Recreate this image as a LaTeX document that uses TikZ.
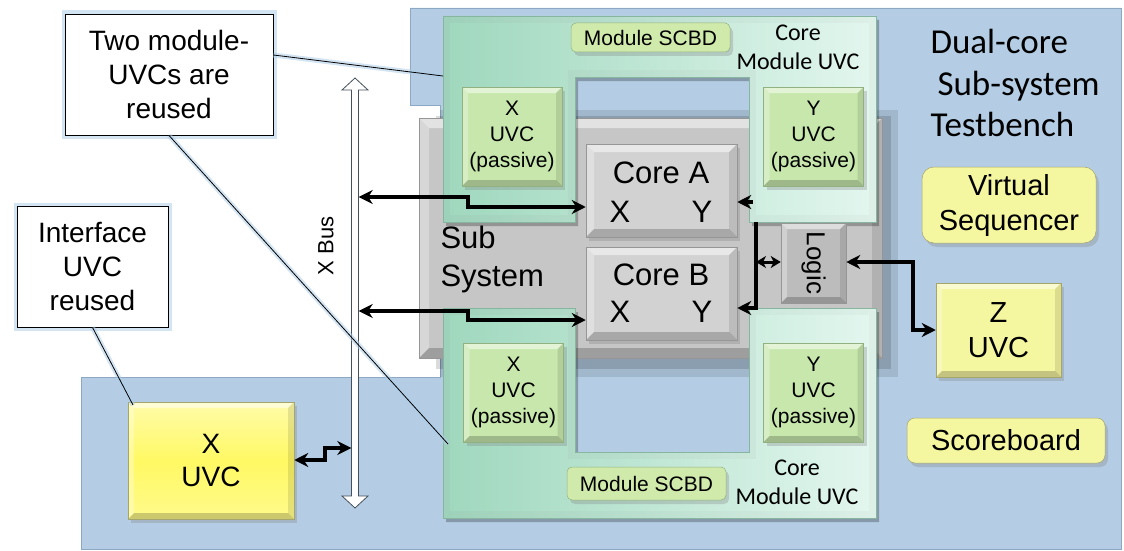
\documentclass[tikz,border=0pt]{standalone}
\usepackage{fontspec}
\setmainfont{Liberation Sans}
\newfontfamily\calib{Carlito}
\usetikzlibrary{arrows.meta,shadows}
\definecolor{bluebg}{RGB}{180,205,228}
\definecolor{blueedge}{RGB}{140,168,196}
\definecolor{graybox}{RGB}{198,198,198}
\definecolor{grayedge}{RGB}{150,150,150}
\definecolor{coregray}{RGB}{210,210,210}
\definecolor{modL}{RGB}{160,216,190}
\definecolor{modR}{RGB}{226,246,238}
\definecolor{modedge}{RGB}{135,182,160}
\definecolor{pgreen}{RGB}{199,231,172}
\definecolor{pedge}{RGB}{145,178,128}
\definecolor{scbd}{RGB}{208,234,172}
\definecolor{pyellow}{RGB}{245,246,160}
\definecolor{yedge}{RGB}{165,165,110}
\definecolor{byellow}{RGB}{255,249,100}
\definecolor{glow}{RGB}{175,205,232}
\definecolor{busedge}{RGB}{70,80,90}
\newcommand{\myfs}[2]{\fontsize{#1pt}{#2pt}\selectfont}
\begin{document}
\begin{tikzpicture}[x=1pt,y=-1pt,
  bevel/.style={path picture={
    \path (path picture bounding box.north west) coordinate (bvNW)
          (path picture bounding box.north east) coordinate (bvNE)
          (path picture bounding box.south west) coordinate (bvSW)
          (path picture bounding box.south east) coordinate (bvSE);
    \fill[white,opacity=.5] (bvNW) -- (bvNE) -- ([xshift=-#1pt,yshift=-#1pt]bvNE) -- ([xshift=#1pt,yshift=-#1pt]bvNW) -- cycle;
    \fill[white,opacity=.3] (bvNW) -- ([xshift=#1pt,yshift=-#1pt]bvNW) -- ([xshift=#1pt,yshift=#1pt]bvSW) -- (bvSW) -- cycle;
    \fill[black,opacity=.1] (bvNE) -- (bvSE) -- ([xshift=-#1pt,yshift=#1pt]bvSE) -- ([xshift=-#1pt,yshift=-#1pt]bvNE) -- cycle;
    \fill[black,opacity=.2] (bvSW) -- (bvSE) -- ([xshift=-#1pt,yshift=#1pt]bvSE) -- ([xshift=#1pt,yshift=#1pt]bvSW) -- cycle;
  }},
  bevel/.default=6,
  shad/.style={drop shadow={shadow xshift=3pt,shadow yshift=-4pt,opacity=.3}},
  core/.style={fill=coregray, draw=grayedge, line width=.5pt, minimum width=151pt, minimum height=93pt, inner sep=0pt, shad, bevel=8},
  passive/.style={fill=pgreen, draw=pedge, line width=.5pt, minimum width=100pt, minimum height=99pt, inner sep=0pt, align=center, font=\myfs{21}{26}, shad, bevel=6},
  scbdbox/.style={fill=scbd, draw=pedge, line width=.5pt, rounded corners=5pt, minimum width=159pt, inner sep=0pt, font=\myfs{21}{25}, shad},
  ybox/.style={fill=pyellow, draw=yedge, line width=.5pt, inner sep=0pt, align=center, font=\myfs{29}{35}, shad},
  callout/.style={fill=white, draw=black, line width=.9pt, inner sep=0pt, align=center, font=\myfs{28}{34}, preaction={draw=glow, line width=7pt, opacity=.55}},
  arrowtip/.tip={Stealth[length=14pt,width=14pt,inset=4.5pt]},
  smalltip/.tip={Stealth[length=10pt,width=12pt,inset=3pt]},
  conn/.style={draw=black, line width=3.2pt, arrowtip-arrowtip},
  conn1/.style={draw=black, line width=3.2pt, -arrowtip},
  connsmall/.style={draw=black, line width=3pt, smalltip-smalltip},
  leader/.style={draw=black, line width=.8pt, preaction={draw=glow, line width=5pt, opacity=.55}},
  modtext/.style={font=\calib\myfs{24}{29}, align=center}
]
\useasboundingbox (0,0) rectangle (1124,551);
% testbench background
\fill[bluebg, draw=blueedge, line width=.6pt] (410,8) -- (1121,8) -- (1121,549) -- (81,549) -- (81,377) -- (440,377) -- (440,105) -- (410,105) -- cycle;
% sub-system box with soft shadow
\fill[black,opacity=.10] (440,110) rectangle (898,377);
\fill[black,opacity=.14] (436,116) rectangle (891,369);
\node[fill=graybox, draw=grayedge, line width=.5pt, minimum width=463pt, minimum height=240pt, inner sep=0pt, bevel=10] (subsys) at (650.5,238) {};
\node[anchor=west, align=left, font=\myfs{31}{38}] (subtext) at (437,259) {Sub\\System};
% top core module UVC (U shape)
\begin{scope}[xshift=3pt,yshift=-4pt]
\fill[black,opacity=.25] (443,16) -- (876,16) -- (876,222) -- (749,222) -- (749,77) -- (575,77) -- (575,222) -- (443,222) -- cycle;
\end{scope}
\shade[left color=modL!92!gray, right color=modR!95!gray, draw=modedge, line width=.5pt] (443,16) -- (876,16) -- (876,222) -- (749,222) -- (749,77) -- (575,77) -- (575,222) -- (443,222) -- cycle;
\shade[left color=modL, right color=modR] (450,23) -- (869,23) -- (869,215) -- (756,215) -- (756,70) -- (568,70) -- (568,215) -- (450,215) -- cycle;
% bottom core module UVC (U shape)
\begin{scope}[xshift=3pt,yshift=-4pt]
\fill[black,opacity=.25] (443,308) -- (575,308) -- (575,452) -- (749,452) -- (749,308) -- (876,308) -- (876,518) -- (443,518) -- cycle;
\end{scope}
\shade[left color=modL!92!gray, right color=modR!95!gray, draw=modedge, line width=.5pt] (443,308) -- (575,308) -- (575,452) -- (749,452) -- (749,308) -- (876,308) -- (876,518) -- (443,518) -- cycle;
\shade[left color=modL, right color=modR] (450,315) -- (568,315) -- (568,459) -- (756,459) -- (756,315) -- (869,315) -- (869,511) -- (450,511) -- cycle;
% module contents
\node[scbdbox, minimum height=29pt] (scbdA) at (650.5,37.5) {Module SCBD};
\node[scbdbox, minimum height=33pt] (scbdB) at (646.5,483.5) {Module SCBD};
\node[modtext] (modA) at (798,47) {Core\\Module UVC};
\node[modtext] (modB) at (797,482) {Core\\Module UVC};
\node[passive] (pxA) at (512,136.5) {X\\UVC\\(passive)};
\node[passive] (pyA) at (813.5,136.5) {Y\\UVC\\(passive)};
\node[passive] (pxB) at (513.5,392.5) {X\\UVC\\(passive)};
\node[passive] (pyB) at (813.5,392.5) {Y\\UVC\\(passive)};
% cores and logic
\node[core] (coreA) at (661.5,190.5) {};
\node[font=\myfs{31}{38}] (coreAt) at (661,173) {Core A};
\node[font=\myfs{31}{38}] (coreAx) at (620,212) {X};
\node[font=\myfs{31}{38}] (coreAy) at (702,212) {Y};
\node[core] (coreB) at (661.5,293.5) {};
\node[font=\myfs{31}{38}] (coreBt) at (661,275) {Core B};
\node[font=\myfs{31}{38}] (coreBx) at (620,312) {X};
\node[font=\myfs{31}{38}] (coreBy) at (702,312) {Y};
\node[fill=graybox!95!black, draw=grayedge, line width=.5pt, minimum width=65pt, minimum height=80pt, inner sep=0pt, bevel=6, font=\myfs{26}{30}] (logic) at (813.5,263) {\rotatebox{-90}{Logic}};
% testbench components
\node[ybox, rounded corners=12pt, minimum width=174pt, minimum height=76pt] (vseq) at (1009,205) {Virtual\\Sequencer};
\node[ybox, minimum width=125pt, minimum height=94pt, bevel=6] (zuvc) at (998.5,330) {Z\\UVC};
\node[ybox, rounded corners=8pt, minimum width=198pt, minimum height=45pt] (sb) at (1006,440.5) {Scoreboard};
\node[top color=byellow!55!white, bottom color=byellow!75!white, middle color=byellow, draw=yedge, line width=.5pt, minimum width=166pt, minimum height=117pt, inner sep=0pt, align=center, font=\myfs{28}{33}, shad, bevel=6] (xuvc) at (211,460.5) {X\\UVC};
\node[anchor=west, align=left, font=\calib\myfs{35}{41.5}] (tbtitle) at (927,83) {Dual-core\\\hspace*{7pt}Sub-system\\Testbench};
% X bus
\fill[white, draw=busedge, line width=.8pt] (355,78) -- (368,90) -- (358.5,90) -- (358.5,496) -- (368,496) -- (355,508) -- (342,496) -- (351.5,496) -- (351.5,90) -- (342,90) -- cycle;
\node[minimum width=7pt, minimum height=430pt, inner sep=0pt] (xbus) at (355,293) {};
\node[font=\myfs{22}{26}] (xbuslabel) at (326,246) {\rotatebox{90}{X Bus}};
% connectors
\coordinate (b1) at (468,197); \coordinate (b2) at (468,207);
\coordinate (b3) at (468,311); \coordinate (b4) at (468,320);
\coordinate (b5) at (325,460); \coordinate (b6) at (325,448);
\draw[conn] (xbus.east |- b1) -- (b1) -- (b2) -- (coreA.west |- b2);
\draw[conn] (xbus.east |- b3) -- (b3) -- (b4) -- (coreB.west |- b4);
\draw[conn] (xuvc.east |- b5) -- (b5) -- (b6) -- (xbus.west |- b6);
\coordinate (ylegA) at (753,202);
\draw[conn1] (ylegA) -- (coreA.east |- ylegA);
\coordinate (vtop) at (756,222); \coordinate (vbot) at (756,308); \coordinate (vmid) at (756,262);
\draw[conn1] (vtop) -- (vbot) -- (coreB.east |- vbot);
\draw[connsmall] (vmid) -- (logic.west |- vmid);
\coordinate (z1) at (913,262); \coordinate (z2) at (913,330);
\draw[conn] (logic.east |- z1) -- (z1) -- (z2) -- (zuvc.west |- z2);
% callouts
\node[callout, minimum width=208pt, minimum height=121pt] (call1) at (169,74.5) {Two module-\\UVCs are\\reused};
\node[callout, minimum width=151pt, minimum height=121pt] (call2) at (92.5,266.5) {Interface\\UVC\\reused};
\coordinate (l1) at (0,55);
\coordinate (m1) at (443,76); \coordinate (m2) at (448,444); \coordinate (m3) at (133,405);
\draw[leader] (call1.east |- l1) -- (m1);
\draw[leader] (call1.south) -- (m2);
\draw[leader] (call2.south) -- (m3);
\end{tikzpicture}
\end{document}
